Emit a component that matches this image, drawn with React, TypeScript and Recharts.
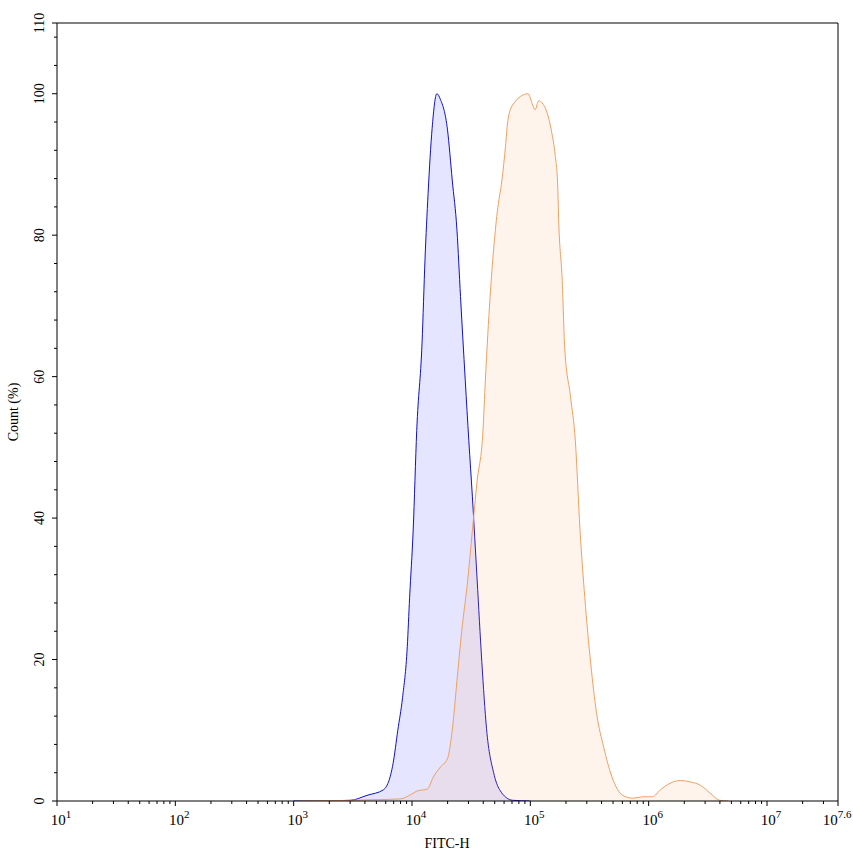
import React from "react";
import {
  ComposedChart,
  Area,
  XAxis,
  YAxis,
  ReferenceLine,
  Label,
} from "recharts";

// log10(FITC-H) exponents and count (%)
const BLUE_EXP = [3.0, 3.22, 3.48, 3.62, 3.76, 3.84, 3.88, 3.92, 3.96, 3.98, 4.01, 4.04, 4.085, 4.11, 4.136, 4.17, 4.21, 4.24, 4.3, 4.34, 4.38, 4.41, 4.45, 4.48, 4.51, 4.55, 4.59, 4.63, 4.69, 4.74, 4.85, 5.0];
const BLUE_COUNT = [0, 0, 0.1, 0.8, 1.6, 5.3, 10, 14.6, 21.8, 28.8, 38.3, 52.4, 64.8, 76.6, 85.9, 95.1, 100, 99.2, 94.9, 87.8, 80.7, 71.3, 59.5, 51.0, 43.1, 31.4, 19.7, 10.2, 4.0, 1.6, 0.1, 0];

const ORANGE_EXP = [3.05, 3.73, 3.9, 3.98, 4.04, 4.13, 4.18, 4.24, 4.3, 4.34, 4.38, 4.42, 4.47, 4.51, 4.55, 4.6, 4.62, 4.66, 4.72, 4.76, 4.79, 4.81, 4.85, 4.98, 5.02, 5.04, 5.07, 5.1, 5.14, 5.18, 5.21, 5.23, 5.24, 5.27, 5.29, 5.34, 5.38, 5.42, 5.46, 5.51, 5.56, 5.62, 5.69, 5.78, 5.87, 5.95, 6.03, 6.1, 6.18, 6.27, 6.35, 6.44, 6.52, 6.6, 6.67];
const ORANGE_COUNT = [0, 0.2, 0.3, 0.8, 1.4, 1.7, 3.4, 4.8, 6.0, 10.0, 17.0, 24.0, 31.1, 38.2, 45.2, 52.4, 59.5, 71.3, 83.2, 87.8, 92.5, 96.2, 98.4, 100, 98.4, 97.7, 99.0, 98.7, 97.4, 94.6, 91.3, 87.5, 81.9, 73.4, 64.2, 57.1, 51.0, 38.3, 28.8, 19.5, 12.4, 7.6, 3.4, 0.8, 0.4, 0.6, 0.6, 1.6, 2.5, 2.9, 2.7, 2.2, 1.1, 0.1, 0];

const X_MAJOR_EXP = [1, 2, 3, 4, 5, 6, 7, 7.6];
const Y_MAJOR = [0, 20, 40, 60, 80, 100, 110];

const X_MIN = 10;
const X_MAX = Math.pow(10, 7.6);

const blueData = BLUE_EXP.map((e, i) => ({ x: Math.pow(10, e), y: BLUE_COUNT[i] }));
const orangeData = ORANGE_EXP.map((e, i) => ({ x: Math.pow(10, e), y: ORANGE_COUNT[i] }));

const xMajorTicks = X_MAJOR_EXP.map((e) => Math.pow(10, e));
const xMinorTicks: number[] = [];
for (let k = 1; k < 8; k++) {
  for (let m = 2; m < 10; m++) {
    const v = m * Math.pow(10, k);
    if (v < X_MAX) xMinorTicks.push(v);
  }
}
const xTicks = [...xMajorTicks, ...xMinorTicks].sort((a, b) => a - b);

const yTicks: number[] = [];
for (let v = 0; v <= 108; v += 4) yTicks.push(v);
yTicks.push(110);

const FONT = "'Liberation Serif', 'Times New Roman', serif";

function XTick(props: any) {
  const { x, y, payload } = props;
  const exp = Math.log10(payload.value);
  const majorIdx = X_MAJOR_EXP.findIndex((e) => Math.abs(e - exp) < 1e-6);
  if (majorIdx < 0) {
    return <line x1={x} x2={x} y1={y} y2={y + 3} stroke="#000" />;
  }
  const label = String(X_MAJOR_EXP[majorIdx]);
  const last = majorIdx === X_MAJOR_EXP.length - 1;
  return (
    <g>
      <line x1={x} x2={x} y1={y} y2={y + 5} stroke="#000" />
      <text x={last ? x - 1 : x + 4} y={y + 24} textAnchor="middle" fontFamily={FONT} fontSize={15} fill="#000">
        <tspan>10</tspan>
        <tspan fontSize={11} dy={-7}>{label}</tspan>
      </text>
    </g>
  );
}

function YTick(props: any) {
  const { x, y, payload } = props;
  const v = payload.value;
  if (!Y_MAJOR.includes(v)) {
    return <line x1={x} x2={x - 3} y1={y} y2={y} stroke="#000" />;
  }
  return (
    <g>
      <line x1={x} x2={x - 5} y1={y} y2={y} stroke="#000" />
      <text
        x={x - 13}
        y={y}
        transform={`rotate(-90, ${x - 13}, ${y})`}
        textAnchor="middle"
        fontFamily={FONT}
        fontSize={14}
        fill="#000"
      >
        {v}
      </text>
    </g>
  );
}

export default function App() {
  return (
    <div style={{ position: "absolute", left: 0, top: 0, width: 853, height: 856, background: "#fff" }}>
      <ComposedChart width={853} height={856} margin={{ top: 23, right: 15, left: 0, bottom: 0 }}>
        <XAxis
          dataKey="x"
          type="number"
          scale="log"
          domain={[X_MIN, X_MAX]}
          allowDataOverflow
          ticks={xTicks}
          interval={0}
          height={55}
          tickSize={0}
          tickMargin={0}
          tickLine={false}
          tick={<XTick />}
          axisLine={{ stroke: "#000" }}
        >
          <Label
            content={() => (
              <text x={447} y={848} textAnchor="middle" fontFamily={FONT} fontSize={14} fill="#000">
                FITC-H
              </text>
            )}
          />
        </XAxis>
        <YAxis
          dataKey="y"
          type="number"
          domain={[0, 110]}
          allowDataOverflow
          ticks={yTicks}
          interval={0}
          width={57}
          tickSize={0}
          tickMargin={0}
          tickLine={false}
          tick={<YTick />}
          axisLine={{ stroke: "#000" }}
        >
          <Label
            content={() => (
              <text
                x={18}
                y={412}
                transform="rotate(-90, 18, 412)"
                textAnchor="middle"
                fontFamily={FONT}
                fontSize={14}
                fill="#000"
              >
                Count (%)
              </text>
            )}
          />
        </YAxis>
        <Area
          data={blueData}
          dataKey="y"
          type="monotone"
          stroke="#1010c8"
          strokeWidth={1}
          fill="#0000ff"
          fillOpacity={0.1}
          isAnimationActive={false}
          dot={false}
          activeDot={false}
        />
        <Area
          data={orangeData}
          dataKey="y"
          type="monotone"
          stroke="#f0a060"
          strokeWidth={1}
          fill="#f4a460"
          fillOpacity={0.12}
          isAnimationActive={false}
          dot={false}
          activeDot={false}
        />
        <ReferenceLine y={110} stroke="#000" />
        <ReferenceLine x={X_MAX} stroke="#000" />
      </ComposedChart>
    </div>
  );
}
